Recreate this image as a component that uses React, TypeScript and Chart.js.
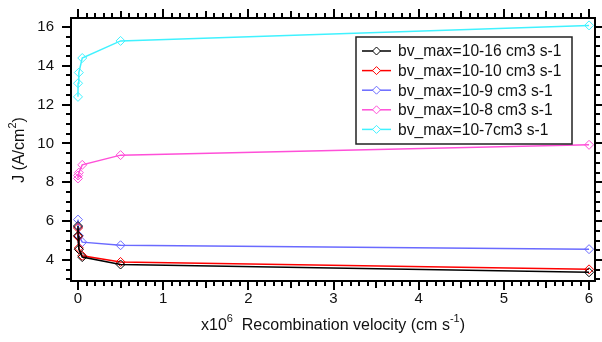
import React, { useEffect, useRef } from 'react';
import { Chart, registerables } from 'chart.js';
Chart.register(...registerables);

// Recombination velocity (x10^6 cm s-1)
const velocities = [0, 0.001, 0.01, 0.05, 0.5, 6];

const seriesLabels = [
  'bv_max=10-16 cm3 s-1',
  'bv_max=10-10 cm3 s-1',
  'bv_max=10-9 cm3 s-1',
  'bv_max=10-8 cm3 s-1',
  'bv_max=10-7cm3 s-1',
];

const jBv16 = [5.75, 5.25, 4.55, 4.15, 3.77, 3.37];
const jBv10 = [5.65, 5.2, 4.62, 4.22, 3.9, 3.52];
const jBv9 = [6.08, 5.7, 5.25, 4.92, 4.76, 4.56];
const jBv8 = [8.2, 8.35, 8.5, 8.9, 9.4, 9.93];
const jBv7 = [12.4, 13.1, 13.65, 14.4, 15.28, 16.08];

const seriesColors = ['#000000', '#ff0000', '#6a6aff', '#ff4fd8', '#40f2ff'];

const xTickValues = [0, 1, 2, 3, 4, 5, 6];
const yTickValues = [4, 6, 8, 10, 12, 14, 16];

const FONT = "'Liberation Sans', Arial, sans-serif";

function drawRich(ctx: CanvasRenderingContext2D, parts: [string, boolean][], cx: number, cy: number, size: number) {
  const supSize = Math.round(size * 0.68);
  let total = 0;
  for (const [t, sup] of parts) {
    ctx.font = `${sup ? supSize : size}px ${FONT}`;
    total += ctx.measureText(t).width;
  }
  let x = cx - total / 2;
  ctx.textBaseline = 'middle';
  ctx.textAlign = 'left';
  for (const [t, sup] of parts) {
    ctx.font = `${sup ? supSize : size}px ${FONT}`;
    ctx.fillText(t, x, sup ? cy - size * 0.42 : cy);
    x += ctx.measureText(t).width;
  }
}

function drawDiamond(ctx: CanvasRenderingContext2D, x: number, y: number, r: number) {
  ctx.beginPath();
  ctx.moveTo(x, y - r);
  ctx.lineTo(x + r, y);
  ctx.lineTo(x, y + r);
  ctx.lineTo(x - r, y);
  ctx.closePath();
  ctx.stroke();
}

const framePlugin = {
  id: 'igorFrame',
  afterDraw(chart: any) {
    const { ctx, chartArea: a } = chart;
    const xs = chart.scales.x;
    const ys = chart.scales.y;
    ctx.save();
    ctx.strokeStyle = '#000';
    ctx.lineWidth = 2;
    ctx.strokeRect(a.left, a.top, a.right - a.left, a.bottom - a.top);
    const seg = (x1: number, y1: number, x2: number, y2: number) => {
      ctx.beginPath();
      ctx.moveTo(x1, y1);
      ctx.lineTo(x2, y2);
      ctx.stroke();
    };
    // x ticks (outward, bottom and top)
    for (let i = -1; i <= 61; i++) {
      const px = Math.round(xs.getPixelForValue(i / 10));
      if (px < a.left - 0.5 || px > a.right + 0.5) continue;
      const len = i % 10 === 0 ? 9 : i % 5 === 0 ? 7 : 5;
      seg(px, a.bottom, px, a.bottom + len);
      seg(px, a.top, px, a.top - len);
    }
    // y ticks (outward, left and right)
    for (let i = 5; i <= 34; i++) {
      const v = i / 2;
      const py = Math.round(ys.getPixelForValue(v));
      if (py < a.top - 0.5 || py > a.bottom + 0.5) continue;
      const len = v % 2 === 0 ? 9 : 5;
      seg(a.left, py, a.left - len, py);
      seg(a.right, py, a.right + len, py);
    }

    // axis titles
    ctx.fillStyle = '#111';
    drawRich(ctx, [['x10', false], ['6', true], ['  Recombination velocity (cm s', false], ['-1', true], [')', false]], 333, 326, 16);
    ctx.save();
    ctx.translate(20, 150);
    ctx.rotate(-Math.PI / 2);
    drawRich(ctx, [['J (A/cm', false], ['2', true], [')', false]], 0, 0, 16);
    ctx.restore();

    // legend box
    const bx = 356, by = 37, bw = 216, bh = 107;
    ctx.fillStyle = '#fff';
    ctx.fillRect(bx, by, bw, bh);
    ctx.lineWidth = 1.5;
    ctx.strokeStyle = '#222';
    ctx.strokeRect(bx, by, bw, bh);
    chart.data.datasets.forEach((ds: any, i: number) => {
      const cy = by + 14 + i * 19.6;
      ctx.strokeStyle = ds.borderColor;
      ctx.lineWidth = 1.5;
      seg(bx + 6, cy, bx + 35, cy);
      ctx.lineWidth = 1;
      ctx.fillStyle = '#fff';
      ctx.beginPath();
      ctx.moveTo(bx + 20.5, cy - 4);
      ctx.lineTo(bx + 24.5, cy);
      ctx.lineTo(bx + 20.5, cy + 4);
      ctx.lineTo(bx + 16.5, cy);
      ctx.closePath();
      ctx.fill();
      drawDiamond(ctx, bx + 20.5, cy, 4);
      ctx.fillStyle = '#111';
      ctx.font = `15.6px ${FONT}`;
      ctx.textAlign = 'left';
      ctx.textBaseline = 'middle';
      ctx.fillText(ds.label, bx + 42, cy + 1);
    });
    ctx.restore();
  },
};

export default function App() {
  const canvasRef = useRef<HTMLCanvasElement | null>(null);

  useEffect(() => {
    const canvas = canvasRef.current;
    if (!canvas) return;
    const all = [jBv16, jBv10, jBv9, jBv8, jBv7];
    const chart = new Chart(canvas, {
      type: 'scatter',
      data: {
        datasets: all.map((arr, i) => ({
          label: seriesLabels[i],
          data: velocities.map((v, k) => ({ x: v, y: arr[k] })),
          showLine: true,
          borderColor: seriesColors[i],
          backgroundColor: seriesColors[i],
          borderWidth: 1.5,
          pointStyle: 'rectRot',
          pointRadius: 4.5,
          pointBorderWidth: 1,
          pointBackgroundColor: 'rgba(255,255,255,0)',
          pointBorderColor: seriesColors[i],
        })),
      },
      options: {
        animation: false,
        responsive: false,
        devicePixelRatio: 1,
        layout: { padding: { top: 18, right: 7, left: 0, bottom: 0 } },
        plugins: { legend: { display: false }, tooltip: { enabled: false } },
        scales: {
          x: {
            type: 'linear',
            min: -0.082,
            max: 6.07,
            grid: { display: false, drawTicks: false },
            border: { display: false },
            afterBuildTicks: (s: any) => {
              s.ticks = xTickValues.map((v) => ({ value: v }));
            },
            afterFit: (s: any) => {
              s.height = 61;
              s.paddingLeft = 0;
              s.paddingRight = 0;
            },
            ticks: {
              padding: 9,
              maxRotation: 0,
              autoSkip: false,
              color: '#111',
              font: { family: FONT, size: 15 },
              callback: (v: any) => String(v),
            },
          },
          y: {
            type: 'linear',
            min: 2.92,
            max: 16.46,
            grid: { display: false, drawTicks: false },
            border: { display: false },
            afterBuildTicks: (s: any) => {
              s.ticks = yTickValues.map((v) => ({ value: v }));
            },
            afterFit: (s: any) => {
              s.width = 71;
              s.paddingTop = 0;
              s.paddingBottom = 0;
            },
            ticks: {
              padding: 17,
              autoSkip: false,
              color: '#111',
              font: { family: FONT, size: 15 },
              callback: (v: any) => String(v),
            },
          },
        },
      },
      plugins: [framePlugin],
    });
    return () => chart.destroy();
  }, []);

  return (
    <div style={{ position: 'absolute', left: 0, top: 0, width: 602, height: 342, background: '#fff' }}>
      <canvas ref={canvasRef} width={602} height={342} />
    </div>
  );
}
